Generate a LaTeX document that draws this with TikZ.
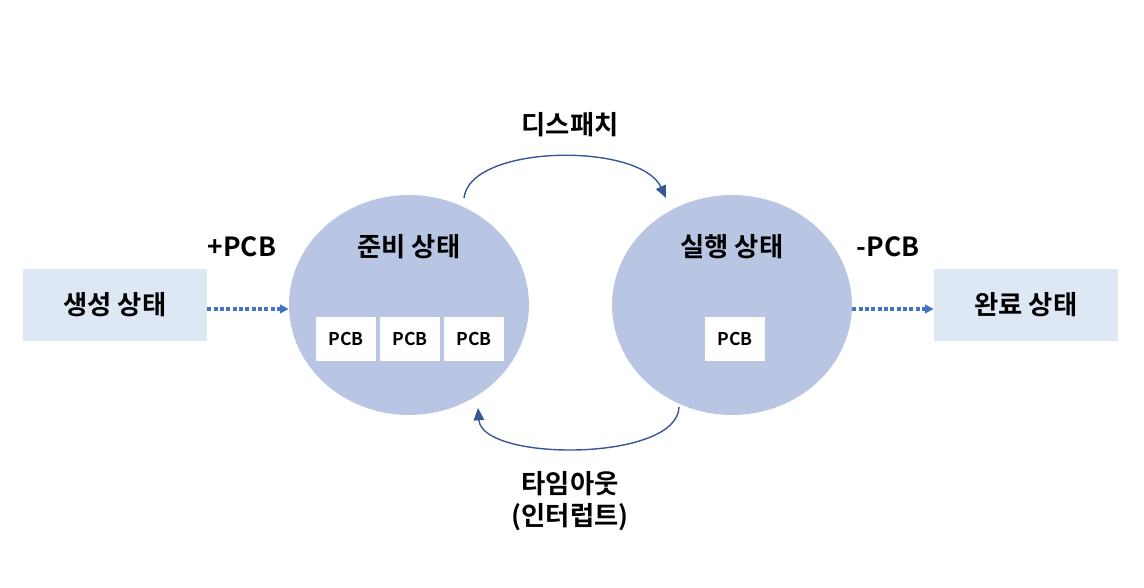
\documentclass[tikz,border=0pt]{standalone}
\usepackage{fontspec}
\setmainfont{Noto Sans CJK KR}[BoldFont={* Bold}]
\usetikzlibrary{arrows.meta,shapes.geometric}
\definecolor{boxfill}{HTML}{DEE8F4}
\definecolor{statefill}{HTML}{B8C6E4}
\definecolor{arcline}{HTML}{3A5795}
\definecolor{dotline}{HTML}{4472C4}
\begin{document}
\begin{tikzpicture}[
    x=0.02cm, y=0.02cm,
    outer/.style={fill=boxfill, minimum width=3.68cm, minimum height=1.44cm, font=\bfseries\fontsize{15}{18}\selectfont},
    state/.style={ellipse, fill=statefill, minimum width=4.8cm, minimum height=4.4cm},
    pcb/.style={fill=white, minimum width=1.2cm, minimum height=0.88cm, font=\bfseries\fontsize{10}{12}\selectfont},
    lbl/.style={font=\bfseries\fontsize{15}{18}\selectfont, align=center},
    flow/.style={arcline, line width=0.8pt, -{Triangle[length=7pt, width=6pt]}},
    move/.style={dotline, line width=2.3pt, dash pattern=on 2.3pt off 1.3pt, -{Triangle[length=5pt, width=5pt]}}]

  \useasboundingbox (0,0) rectangle (1144,588);

  \node[outer] (new) at (115,283) {생성 상태};
  \node[outer] (done) at (1026,283) {완료 상태};

  \node[state] (ready) at (409,283) {};
  \node[state] (run) at (732,283) {};

  \node[lbl] (readylbl) at (409,341) {준비 상태};
  \node[lbl] (runlbl) at (732,341) {실행 상태};

  \node[pcb] (p1) at (346,249) {PCB};
  \node[pcb] (p2) at (410,249) {PCB};
  \node[pcb] (p3) at (474,249) {PCB};
  \node[pcb] (p4) at (735,249) {PCB};

  \node[lbl] (plus) at (242,341) {+PCB};
  \node[lbl] (minus) at (888,341) {-PCB};
  \node[lbl] (dispatch) at (570,463) {디스패치};
  \node[lbl] (timeout) at (570,87) {타임아웃\\(인터럽트)};

  % 상태 전이
  \coordinate (d1) at (464,390);
  \coordinate (d2) at (666,390);
  \coordinate (t1) at (679,181);
  \coordinate (t2) at (478,180);
  \draw[flow] (d1) .. controls (470,444) and (640,446) .. (d2);
  \draw[flow] (t1) .. controls (678,126) and (482,126) .. (t2);

  \draw[move] (new.east |- 0,279) -- (ready.west |- 0,279);
  \draw[move] (run.east |- 0,279) -- (done.west |- 0,279);
\end{tikzpicture}
\end{document}
